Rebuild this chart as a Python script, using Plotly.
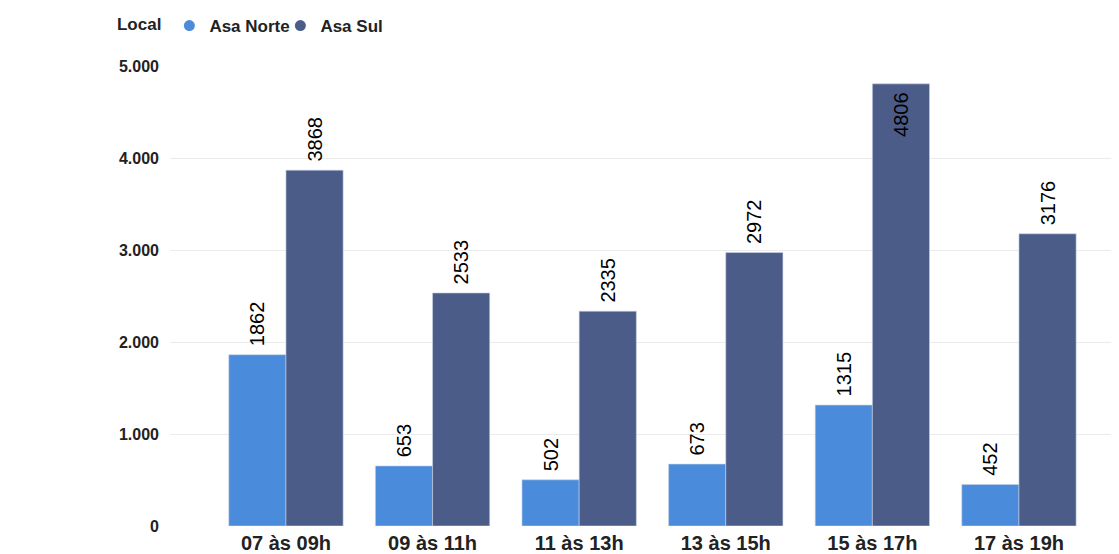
import plotly.graph_objects as go

faixas = ["07 às 09h", "09 às 11h", "11 às 13h", "13 às 15h", "15 às 17h", "17 às 19h"]
asa_norte = [1862, 653, 502, 673, 1315, 452]
asa_sul = [3868, 2533, 2335, 2972, 4806, 3176]
y_ticks = [0, 1000, 2000, 3000, 4000, 5000]
y_tick_text = ["0", "1.000", "2.000", "3.000", "4.000", "5.000"]

FONT = "Liberation Sans, Arial, sans-serif"
NORTE = "#4A8CDB"
SUL = "#4B5C88"

fig = go.Figure()
for name, values, color in (("Asa Norte", asa_norte, NORTE), ("Asa Sul", asa_sul, SUL)):
    # the tallest bar keeps its label inside, as in the source chart
    inside = [v > 4500 for v in values]
    fig.add_trace(
        go.Bar(
            x=faixas,
            y=values,
            name=name,
            legendgroup=name,
            showlegend=False,
            marker={"color": color, "line": {"color": "#C9D3E6", "width": 0.6}},
            text=values,
            texttemplate=["%{text} " if i else " %{text}" for i in inside],
            textposition=["inside" if i else "outside" for i in inside],
            textangle=-90,
            textfont={"family": FONT, "size": 20, "color": "#000000"},
            insidetextanchor="end",
            cliponaxis=False,
        )
    )
    # circle marker for the legend entry
    fig.add_trace(
        go.Scatter(
            x=[None],
            y=[None],
            mode="markers",
            name=name,
            legendgroup=name,
            marker={"color": color, "size": 11, "symbol": "circle"},
        )
    )

fig.update_layout(
    width=1119,
    height=554,
    barmode="group",
    bargap=0.22,
    bargroupgap=0,
    plot_bgcolor="white",
    paper_bgcolor="white",
    margin={"l": 162, "r": 0, "t": 58, "b": 36, "autoexpand": False},
    font={"family": FONT, "color": "#222222"},
    legend={
        "orientation": "h",
        "title": {"text": "<b>Local</b>", "font": {"size": 17, "color": "#222222"}},
        "font": {"size": 17, "color": "#222222", "weight": "bold"},
        "x": -0.0575,
        "y": 1.126,
        "xanchor": "left",
        "yanchor": "top",
        "itemwidth": 30,
        "entrywidth": 66,
        "entrywidthmode": "pixels",
        "tracegroupgap": 0,
    },
)
fig.update_xaxes(
    range=[-0.791, 5.737],
    showgrid=False,
    showline=False,
    ticks="",
    ticklabelstandoff=3,
    tickfont={"size": 20, "weight": "bold", "color": "#222222"},
)
fig.update_yaxes(
    range=[0, 5000],
    tickvals=y_ticks,
    ticktext=y_tick_text,
    gridcolor="#EBEBEB",
    gridwidth=1,
    zeroline=False,
    showline=False,
    ticks="",
    ticklabelstandoff=10,
    tickfont={"size": 16, "weight": "bold", "color": "#222222"},
)

fig.write_html("out.html")
